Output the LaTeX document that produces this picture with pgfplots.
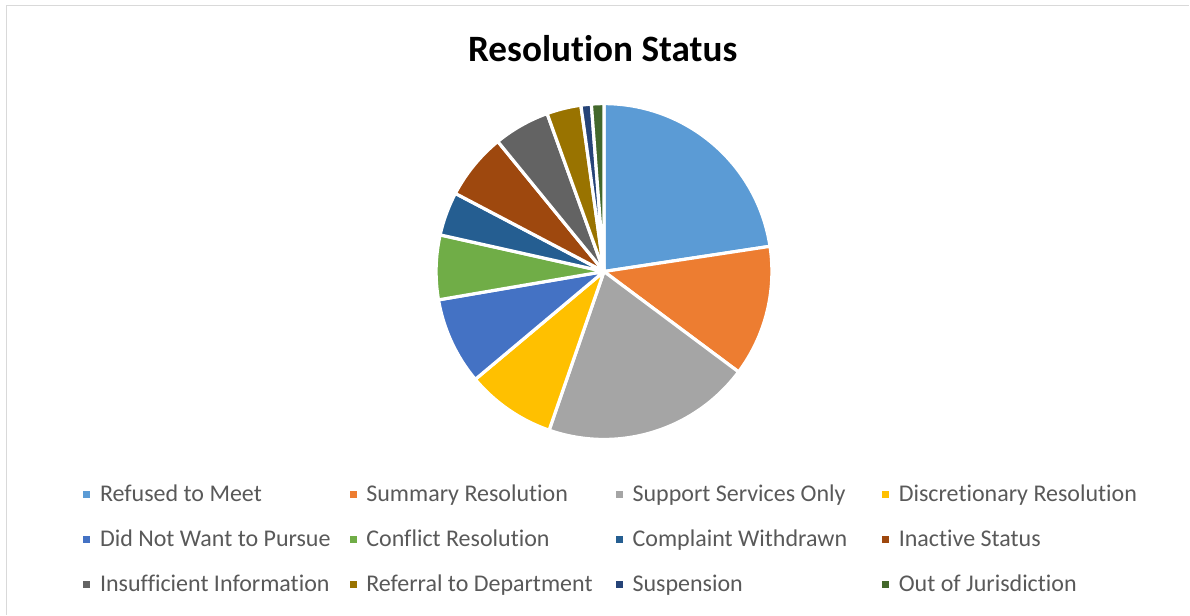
\documentclass[border=0pt]{standalone}
\usepackage{pgfplots}
\pgfplotsset{compat=1.18}
\usepackage{pgfplotstable}
\usepackage{fontspec}
\setmainfont{Carlito}[Ligatures={NoCommon}]
\definecolor{c0}{HTML}{5B9BD5}
\definecolor{c1}{HTML}{ED7D31}
\definecolor{c2}{HTML}{A5A5A5}
\definecolor{c3}{HTML}{FFC000}
\definecolor{c4}{HTML}{4472C4}
\definecolor{c5}{HTML}{70AD47}
\definecolor{c6}{HTML}{255E91}
\definecolor{c7}{HTML}{9E480E}
\definecolor{c8}{HTML}{636363}
\definecolor{c9}{HTML}{997300}
\definecolor{c10}{HTML}{264478}
\definecolor{c11}{HTML}{43682B}
\definecolor{legendgray}{HTML}{595959}
\definecolor{framegray}{HTML}{D9D9D9}

\pgfplotstableread[col sep=comma]{
name,value
Refused to Meet,22.6
Summary Resolution,12.6
Support Services Only,20.1
Discretionary Resolution,8.6
Did Not Want to Pursue,8.4
Conflict Resolution,6.2
Complaint Withdrawn,4.2
Inactive Status,6.4
Insufficient Information,5.4
Referral to Department,3.3
Suspension,1.0
Out of Jurisdiction,1.2
}\datatable

\newcommand{\LE}[1]{\makebox[124.85bp][l]{#1}}

\begin{document}
\begin{tikzpicture}
% cumulative angles (clockwise from 12 o'clock)
\xdef\cumsum{0}
\foreach \i in {0,...,11}{%
  \pgfplotstablegetelem{\i}{value}\of{\datatable}%
  \pgfmathsetmacro\s{90-3.6*\cumsum}%
  \pgfmathsetmacro\newcum{\cumsum+\pgfplotsretval}%
  \pgfmathsetmacro\e{90-3.6*\newcum}%
  \expandafter\xdef\csname sA\i\endcsname{\s}%
  \expandafter\xdef\csname eA\i\endcsname{\e}%
  \xdef\cumsum{\newcum}%
}
\begin{axis}[
  x=84bp, y=84bp,
  xmin=-3.597, xmax=3.486,
  ymin=-2.043, ymax=1.617,
  hide axis,
  clip=false,
  legend columns=4,
  legend image code/.code={\fill[#1] (0bp,-1.75bp) rectangle (3.5bp,1.75bp);},
  legend style={
    at={(rel axis cs:0.0701,0.2130)}, anchor=north west,
    draw=none, fill=none, inner sep=0pt, outer sep=0pt,
    row sep=11.5bp,
    nodes={inner sep=0pt, text height=9bp, text depth=2bp,
           font=\fontsize{12bp}{14bp}\selectfont, text=legendgray},
    /tikz/every odd column/.append style={column sep=4.85bp},
  },
]
\path (rel axis cs:0,0) rectangle (rel axis cs:1,1);
\draw[framegray, line width=0.65bp] (rel axis cs:0.00555,0) -- (rel axis cs:0.00555,0.99073) -- (rel axis cs:1,0.99073);
\pgfplotsinvokeforeach{0,...,11}{%
  \fill[c#1, draw=white, line width=1.6bp, line join=round]
    (axis cs:0,0) -- ++(\csname sA#1\endcsname:84bp)
    arc[start angle=\csname sA#1\endcsname, end angle=\csname eA#1\endcsname, radius=84bp] -- cycle;
}
\node[anchor=base, font=\fontsize{18.6bp}{22bp}\selectfont\bfseries] at (rel axis cs:0.5067,0.8992) {Resolution Status};

\addlegendimage{fill=c0, draw=none}\addlegendentry{\LE{Refused to Meet}}
\addlegendimage{fill=c1, draw=none}\addlegendentry{\LE{Summary Resolution}}
\addlegendimage{fill=c2, draw=none}\addlegendentry{\LE{Support Services Only}}
\addlegendimage{fill=c3, draw=none}\addlegendentry{\LE{Discretionary Resolution}}
\addlegendimage{fill=c4, draw=none}\addlegendentry{\LE{Did Not Want to Pursue}}
\addlegendimage{fill=c5, draw=none}\addlegendentry{\LE{Conflict Resolution}}
\addlegendimage{fill=c6, draw=none}\addlegendentry{\LE{Complaint Withdrawn}}
\addlegendimage{fill=c7, draw=none}\addlegendentry{\LE{Inactive Status}}
\addlegendimage{fill=c8, draw=none}\addlegendentry{\LE{Insufficient Information}}
\addlegendimage{fill=c9, draw=none}\addlegendentry{\LE{Referral to Department}}
\addlegendimage{fill=c10, draw=none}\addlegendentry{\LE{Suspension}}
\addlegendimage{fill=c11, draw=none}\addlegendentry{\LE{Out of Jurisdiction}}
\end{axis}
\end{tikzpicture}
\end{document}
